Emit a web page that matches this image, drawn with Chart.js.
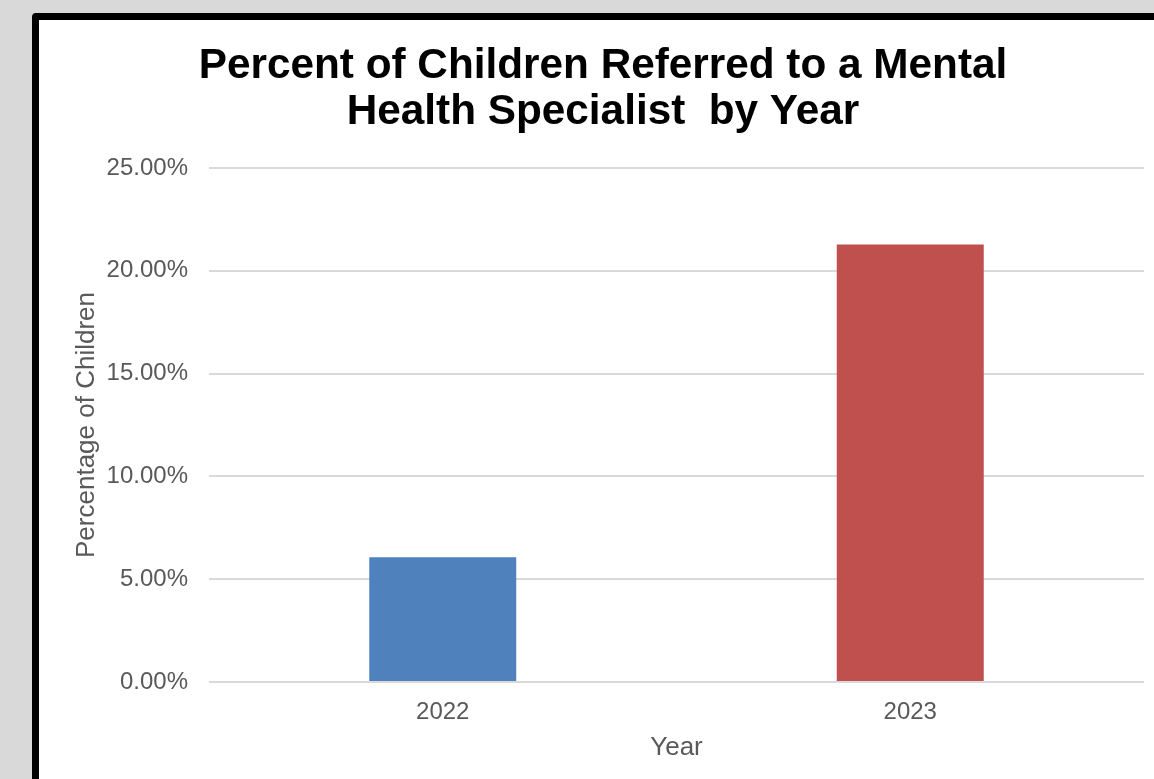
<!DOCTYPE html>
<html>
<head>
<meta charset="utf-8">
<script src="https://cdn.jsdelivr.net/npm/chart.js@4.4.1/dist/chart.umd.min.js"></script>
<style>
  html, body { margin: 0; padding: 0; background: #d9d9d9; width: 1154px; height: 779px; overflow: hidden; }
  #frame { position: absolute; left: 32px; top: 13px; width: 1200px; height: 840px; background: #ffffff; border: 7px solid #000; border-radius: 4px; }
  #wrap { position: absolute; left: 39px; top: 20px; width: 1115px; height: 759px; }
</style>
</head>
<body>
<div id="frame"></div>
<div id="wrap"><canvas id="c"></canvas></div>
<script>
const titleLines = ['Percent of Children Referred to a Mental', 'Health Specialist  by Year'];
const categories = ['2022', '2023'];
const percentReferred = [0.0607, 0.2128];
const barColors = ['#4F81BD', '#C0504D'];
const yAxisTitle = 'Percentage of Children';
const xAxisTitle = 'Year';

const fontFamily = '"Liberation Sans", Arial, sans-serif';
const textGray = '#595959';

new Chart(document.getElementById('c'), {
  type: 'bar',
  data: {
    labels: categories,
    datasets: [{
      data: percentReferred,
      backgroundColor: barColors,
      borderWidth: 0,
      barPercentage: 1,
      categoryPercentage: 0.3144
    }]
  },
  options: {
    responsive: true,
    maintainAspectRatio: false,
    animation: false,
    layout: { padding: { left: 23, right: 10, top: 0, bottom: 0 } },
    plugins: {
      legend: { display: false },
      tooltip: { enabled: false },
      title: {
        display: true,
        text: titleLines,
        color: '#000',
        font: { family: fontFamily, size: 42.3, weight: 'bold', lineHeight: 1.0875 },
        padding: { top: 23, bottom: 33 }
      }
    },
    scales: {
      y: {
        min: 0, max: 0.25,
        ticks: {
          stepSize: 0.05,
          color: textGray,
          padding: 21,
          font: { family: fontFamily, size: 24 },
          callback: v => (v * 100).toFixed(2) + '%'
        },
        grid: { color: '#d9d9d9', lineWidth: 2, drawTicks: false },
        border: { display: false },
        title: {
          display: true,
          text: yAxisTitle,
          color: textGray,
          font: { family: fontFamily, size: 26 },
          padding: { top: 9.4, bottom: -17 }
        }
      },
      x: {
        ticks: {
          color: textGray,
          padding: 16,
          font: { family: fontFamily, size: 24 }
        },
        grid: { display: false, drawTicks: false },
        border: { display: false },
        title: {
          display: true,
          text: xAxisTitle,
          color: textGray,
          font: { family: fontFamily, size: 26 },
          padding: { top: -10.4, bottom: 15.4 }
        }
      }
    }
  }
});
</script>
</body>
</html>
